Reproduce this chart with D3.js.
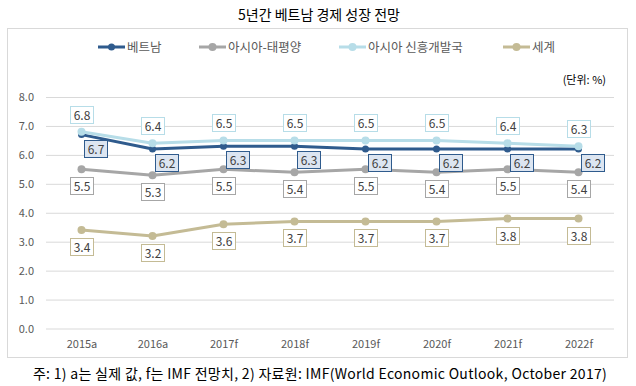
<!DOCTYPE html>
<html><head><meta charset="utf-8">
<script src="https://cdn.jsdelivr.net/npm/d3@7"></script>
<style>
html,body{margin:0;padding:0;background:#fff;}
text{font-family:"Noto Sans CJK KR","Noto Sans",sans-serif;}
</style></head>
<body><svg id="c" width="636" height="386"></svg>
<script>
const categories = ["2015a","2016a","2017f","2018f","2019f","2020f","2021f","2022f"];
const seriesNames = ["베트남","아시아-태평양","아시아 신흥개발국","세계"];
const vietnam   = [6.7,6.2,6.3,6.3,6.2,6.2,6.2,6.2];
const asiaPac   = [5.5,5.3,5.5,5.4,5.5,5.4,5.5,5.4];
const asiaEmerg = [6.8,6.4,6.5,6.5,6.5,6.5,6.4,6.3];
const world     = [3.4,3.2,3.6,3.7,3.7,3.7,3.8,3.8];
const yTicks = [0,1,2,3,4,5,6,7,8];
const titleText = "5년간 베트남 경제 성장 전망";
const unitText = "(단위: %)";
const noteText = "주: 1) a는 실제 값, f는 IMF 전망치, 2) 자료원: IMF(World Economic Outlook, October 2017)";

const series = [
  {name:seriesNames[0], values:vietnam,   color:"#2F5B8D", fill:"#DCE5F1", r:3.5, dx:14, dy:14},
  {name:seriesNames[1], values:asiaPac,   color:"#A6A6A6", fill:"#FFFFFF", r:4, dx:0, dy:17},
  {name:seriesNames[2], values:asiaEmerg, color:"#B7DDE8", fill:"#FFFFFF", r:4, dx:0, dy:-17},
  {name:seriesNames[3], values:world,     color:"#C4BB95", fill:"#FFFFFF", r:4, dx:0, dy:17}
];

const svg = d3.select("#c");
svg.append("rect").attr("x",7.5).attr("y",28.5).attr("width",620).attr("height",329)
  .attr("fill","#fff").attr("stroke","#D9D9D9").attr("stroke-width",1);

svg.append("text").attr("x",319).attr("y",20).attr("text-anchor","middle")
  .attr("font-size",14).attr("fill","#000").text(titleText);

const x = d3.scalePoint().domain(categories).range([46,614]).padding(0.5);
const y = d3.scaleLinear().domain([0,8]).range([328.5,97]);

const yAxis = d3.axisLeft(y).tickValues(yTicks).tickFormat(d3.format(".1f"))
  .tickSize(-(614-46)).tickPadding(12);
const gy = svg.append("g").attr("transform","translate(46,0)").call(yAxis);
gy.select(".domain").remove();
gy.selectAll(".tick line").attr("stroke","#D9D9D9").attr("stroke-width",1);
gy.selectAll(".tick text").attr("fill","#595959").attr("font-size",11)
  .attr("font-family","'Noto Sans CJK KR','Noto Sans',sans-serif").attr("x",-12);

const xAxis = d3.axisBottom(x).tickSize(0).tickPadding(12);
const gx = svg.append("g").attr("transform","translate(0,328.5)").call(xAxis);
gx.select(".domain").remove();
gx.selectAll(".tick text").attr("fill","#595959").attr("font-size",11)
  .attr("font-family","'Noto Sans CJK KR','Noto Sans',sans-serif");

const line = d3.line().x((d,i)=>x(categories[i])).y(d=>y(d));
series.forEach(s=>{
  const g = svg.append("g");
  g.append("path").datum(s.values).attr("d",line).attr("fill","none")
    .attr("stroke",s.color).attr("stroke-width",3).attr("stroke-linejoin","round");
  g.selectAll("circle").data(s.values).join("circle")
    .attr("cx",(d,i)=>x(categories[i])).attr("cy",d=>y(d)).attr("r",s.r)
    .attr("fill",s.color);
});

const bw=24, bh=18;
series.forEach(s=>{
  const g = svg.append("g");
  s.values.forEach((v,i)=>{
    const cx = x(categories[i])+s.dx, cy = y(v)+s.dy;
    g.append("rect").attr("x",Math.round(cx-bw/2)+0.5).attr("y",Math.round(cy-bh/2)+0.5)
      .attr("width",bw-1).attr("height",bh-1)
      .attr("fill",s.fill).attr("stroke",s.color).attr("stroke-width",1);
    g.append("text").attr("x",Math.round(cx)).attr("y",Math.round(cy)+4.5)
      .attr("text-anchor","middle").attr("font-size",12).attr("fill","#404040")
      .text(d3.format(".1f")(v));
  });
});

const legendX = [98,199,339,503];
series.forEach((s,i)=>{
  const g = svg.append("g").attr("transform",`translate(${legendX[i]},47)`);
  g.append("line").attr("x1",0).attr("x2",27).attr("y1",0).attr("y2",0)
    .attr("stroke",s.color).attr("stroke-width",3);
  g.append("circle").attr("cx",13.5).attr("cy",0).attr("r",s.r).attr("fill",s.color);
  g.append("text").attr("x",29).attr("y",4.5).attr("font-size",12.5).attr("fill","#595959").text(s.name);
});

svg.append("text").attr("x",606).attr("y",84).attr("text-anchor","end")
  .attr("font-size",11).attr("fill","#000").text(unitText);

svg.append("text").attr("x",320).attr("y",379).attr("text-anchor","middle")
  .attr("font-size",14).attr("letter-spacing",0.3).attr("fill","#000").text(noteText);
</script></body></html>
